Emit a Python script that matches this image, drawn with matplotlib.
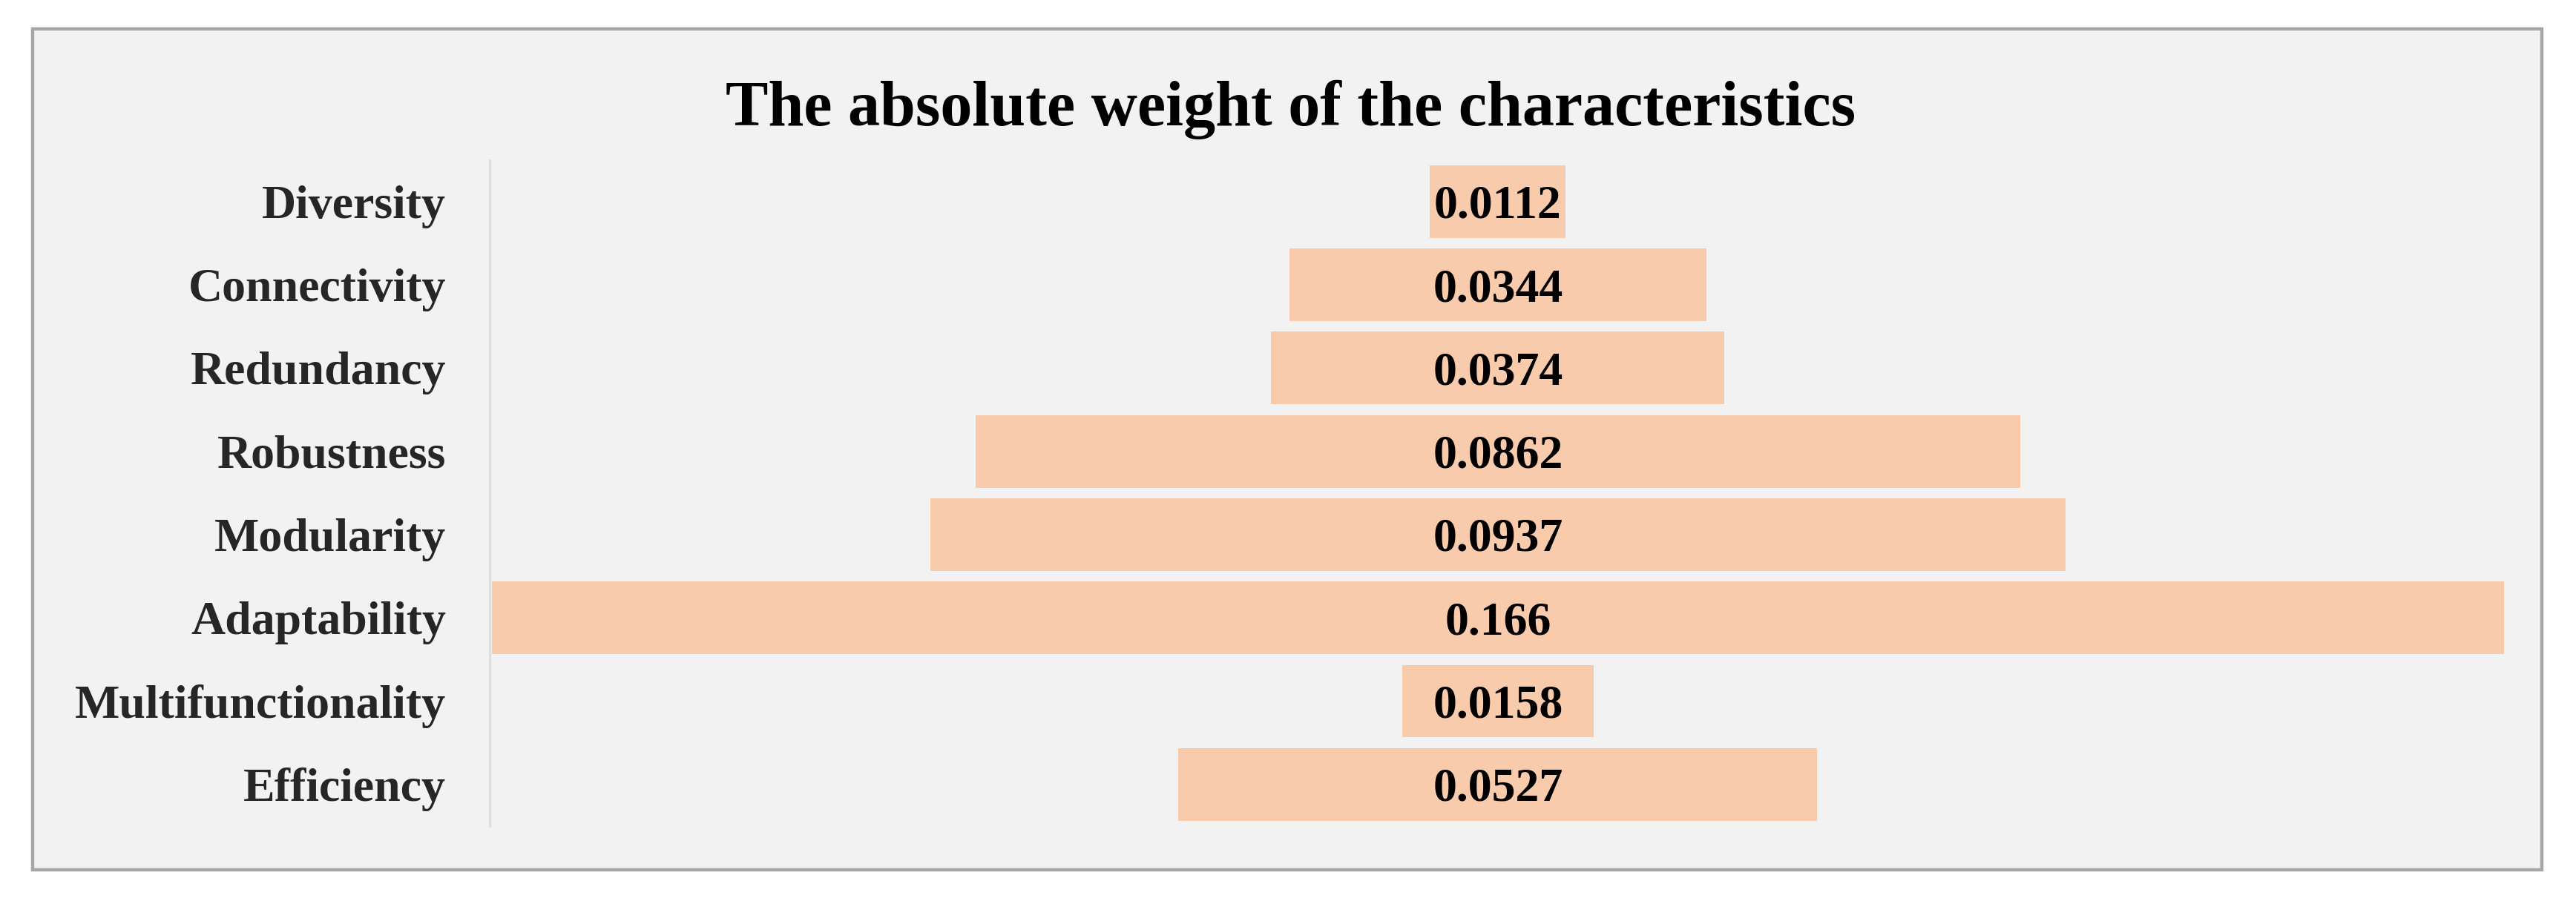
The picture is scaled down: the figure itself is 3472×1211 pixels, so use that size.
import matplotlib.pyplot as plt
from matplotlib.patches import Rectangle

# Data
characteristics = ['Diversity', 'Connectivity', 'Redundancy', 'Robustness',
                   'Modularity', 'Adaptability', 'Multifunctionality', 'Efficiency']
weights = [0.0112, 0.0344, 0.0374, 0.0862, 0.0937, 0.166, 0.0158, 0.0527]

plt.rcParams['font.family'] = ['Liberation Serif', 'DejaVu Serif']
plt.rcParams['font.weight'] = 'bold'

fig = plt.figure(figsize=(17.36, 6.055), dpi=200)
fig.patch.set_facecolor('white')

# Chart area frame (Excel style)
frame = Rectangle((0.0127, 0.031), 0.974, 0.937, transform=fig.transFigure,
                  facecolor='#f2f2f2', edgecolor='#a6a6a6', linewidth=1.6, zorder=-1)
fig.patches.append(frame)

ax = fig.add_axes([0.190, 0.080, 0.783, 0.742])
ax.set_facecolor('none')

y = list(range(len(characteristics)))
# Funnel: each bar centred on zero
lefts = [-w / 2 for w in weights]
ax.barh(y, weights, left=lefts, height=0.87, color='#f8cbad', edgecolor='none')

for i, w in enumerate(weights):
    ax.text(0, i, f'{w:g}', ha='center', va='center_baseline', fontsize=23,
            fontweight='bold', color='black')

ax.set_xlim(-0.0832, 0.0832)
ax.set_ylim(len(characteristics) - 0.5, -0.5)
ax.set_yticks(y)
ax.set_yticklabels(characteristics, fontsize=23, fontweight='bold', color='#262626',
                   va='center_baseline')
ax.tick_params(axis='y', length=0, pad=21)
ax.set_xticks([])

for side in ['top', 'right', 'bottom']:
    ax.spines[side].set_visible(False)
ax.spines['left'].set_color('#d9d9d9')
ax.spines['left'].set_linewidth(0.9)

fig.text(0.501, 0.878, 'The absolute weight of the characteristics', ha='center',
         va='center', fontsize=31, fontweight='bold', color='black')

fig.savefig('out.png', dpi=200, facecolor=fig.get_facecolor())
